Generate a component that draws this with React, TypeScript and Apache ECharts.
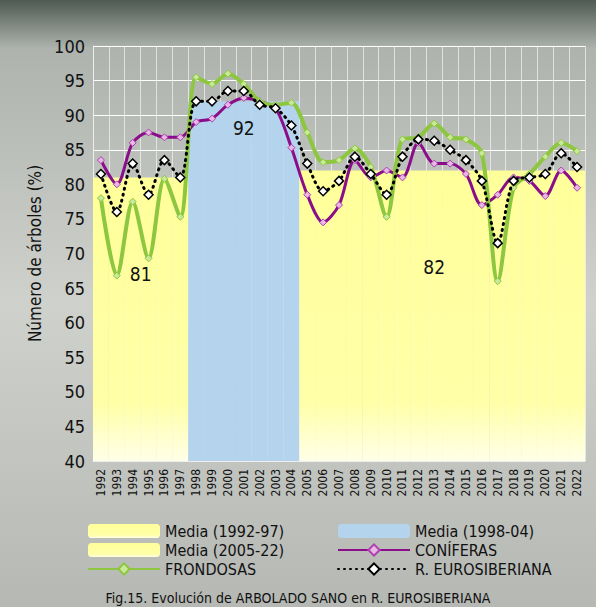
import * as echarts from "echarts";
import { useEffect, useRef } from "react";

const years = Array.from({ length: 31 }, (_, i) => String(1992 + i));
const frondosas = [78, 66.8, 77.5, 69.3, 80.8, 75.3, 95.5, 94.5, 96, 94.5, 92, 91.5, 91.8, 87.5, 83.2, 83.5, 85.2, 82.5, 75.3, 86.5, 86.8, 88.8, 86.8, 86.5, 84.5, 66, 79.5, 81.5, 84, 86, 84.8];
const coniferas = [83.5, 80, 86, 87.5, 86.8, 86.8, 89, 89.5, 91.5, 92.5, 92, 91, 85.3, 78.5, 74.5, 77, 83.5, 81, 82, 81, 86, 83, 83, 81.5, 77, 78.5, 81, 80.5, 78.3, 82, 79.5];
const eurosiberiana = [81.5, 76, 83, 78.5, 83.5, 81, 92, 92, 93.5, 93.5, 91.5, 91, 88.5, 83, 79, 80.5, 84, 81.5, 78.5, 84, 86.5, 86.3, 85, 83.5, 80.5, 71.5, 80.5, 81, 81.5, 84.5, 82.5];
const media1 = { from: 0, to: 5, value: 81 };
const media2 = { from: 6, to: 12, value: 92 };
const media3 = { from: 13, to: 30, value: 82 };

const FONT = "DejaVu Sans Condensed";

function mediaData(m: { from: number; to: number; value: number }) {
  const labelIdx = Math.floor((m.from + m.to) / 2);
  return years.map((_, i) =>
    i >= m.from && i <= m.to
      ? {
          value: m.value,
          label: i === labelIdx ? { show: true, position: "insideTop", offset: [m.to - m.from > 10 ? 0 : (m.to - m.from) % 2 ? 8 : 0, m.value === 92 ? 12 : 82], formatter: String(m.value), fontSize: 19, color: "#111", fontFamily: FONT } : { show: false },
        }
      : null
  );
}

const yellowFill = new echarts.graphic.LinearGradient(0, 0, 0, 1, [
  { offset: 0, color: "#ffff9a" },
  { offset: 0.8, color: "#ffffa8" },
  { offset: 1, color: "#ffffe8" },
]);

export default function App() {
  const ref = useRef<HTMLDivElement>(null);
  useEffect(() => {
    if (!ref.current) return;
    const chart = echarts.init(ref.current, null, { renderer: "svg" });
    const bar = (name: string, m: any, color: any) => ({
      name,
      type: "bar",
      data: mediaData(m),
      barWidth: "100%",
      barGap: "-100%",
      itemStyle: { color },
      z: 1,
    });
    chart.setOption({
      animation: false,
      backgroundColor: new echarts.graphic.LinearGradient(0, 0, 0, 1, [
        { offset: 0, color: "#4e5a52" },
        { offset: 0.08, color: "#aeb3ae" },
        { offset: 0.5, color: "#cfd1cc" },
        { offset: 1, color: "#b5b8b3" },
      ]),
      textStyle: { fontFamily: FONT },
      grid: { left: 93, right: 11, top: 46, bottom: 146 },
      xAxis: {
        type: "category",
        data: years,
        axisLabel: { rotate: 90, color: "#111", fontSize: 12, fontFamily: FONT, interval: 0 },
        axisLine: { lineStyle: { color: "#eee" } },
        axisTick: { show: false },
        splitLine: { show: true, lineStyle: { color: "rgba(255,255,255,0.6)" } },
      },
      yAxis: {
        type: "value",
        min: 40,
        max: 100,
        interval: 5,
        name: "Número de árboles (%)",
        nameLocation: "middle",
        nameGap: 42,
        nameTextStyle: { fontSize: 17, color: "#111", fontFamily: FONT },
        axisLabel: { fontSize: 18, color: "#111", fontFamily: FONT },
        axisLine: { show: true, lineStyle: { color: "#eee" } },
        splitLine: { lineStyle: { color: "#fff" } },
      },
      legend: [
        {
          left: 82, top: 518, orient: "vertical", itemGap: 3, itemWidth: 72, itemHeight: 14,
          textStyle: { fontSize: 16, color: "#111", fontFamily: FONT },
          data: ["Media (1992-97)", "Media (2005-22)", "FRONDOSAS"],
        },
        {
          left: 332, top: 518, orient: "vertical", itemGap: 3, itemWidth: 72, itemHeight: 14,
          textStyle: { fontSize: 16, color: "#111", fontFamily: FONT },
          data: ["Media (1998-04)", "CONÍFERAS", "R. EUROSIBERIANA"],
        },
      ],
      graphic: [
        { type: "text", left: "center", top: 591, style: { text: "Fig.15. Evolución de ARBOLADO SANO en R. EUROSIBERIANA", fontSize: 14, fill: "#111", fontFamily: FONT } },
      ],
      series: [
        bar("Media (1992-97)", media1, yellowFill),
        bar("Media (1998-04)", media2, "#b4d3ec"),
        bar("Media (2005-22)", media3, yellowFill),
        {
          name: "CONÍFERAS", type: "line", data: coniferas, smooth: 0.3, symbol: "diamond", symbolSize: 7,
          lineStyle: { color: "#8a0d8a", width: 3 }, itemStyle: { color: "#e7b8e4", borderColor: "#b040b0", borderWidth: 1 }, z: 3,
        },
        {
          name: "FRONDOSAS", type: "line", data: frondosas, smooth: 0.3, symbol: "diamond", symbolSize: 7,
          lineStyle: { color: "#8dc63f", width: 4 }, itemStyle: { color: "#c8e89a", borderColor: "#8dc63f", borderWidth: 1 }, z: 4,
        },
        {
          name: "R. EUROSIBERIANA", type: "line", data: eurosiberiana, smooth: 0.3, symbol: "diamond", symbolSize: 9,
          lineStyle: { color: "#000", width: 3, type: [1, 5], cap: "round" }, itemStyle: { color: "#fff", borderColor: "#000", borderWidth: 1.5 }, z: 5,
        },
      ],
    });
    return () => chart.dispose();
  }, []);
  return <div ref={ref} style={{ position: "absolute", left: 0, top: 0, width: 596, height: 607 }} />;
}
